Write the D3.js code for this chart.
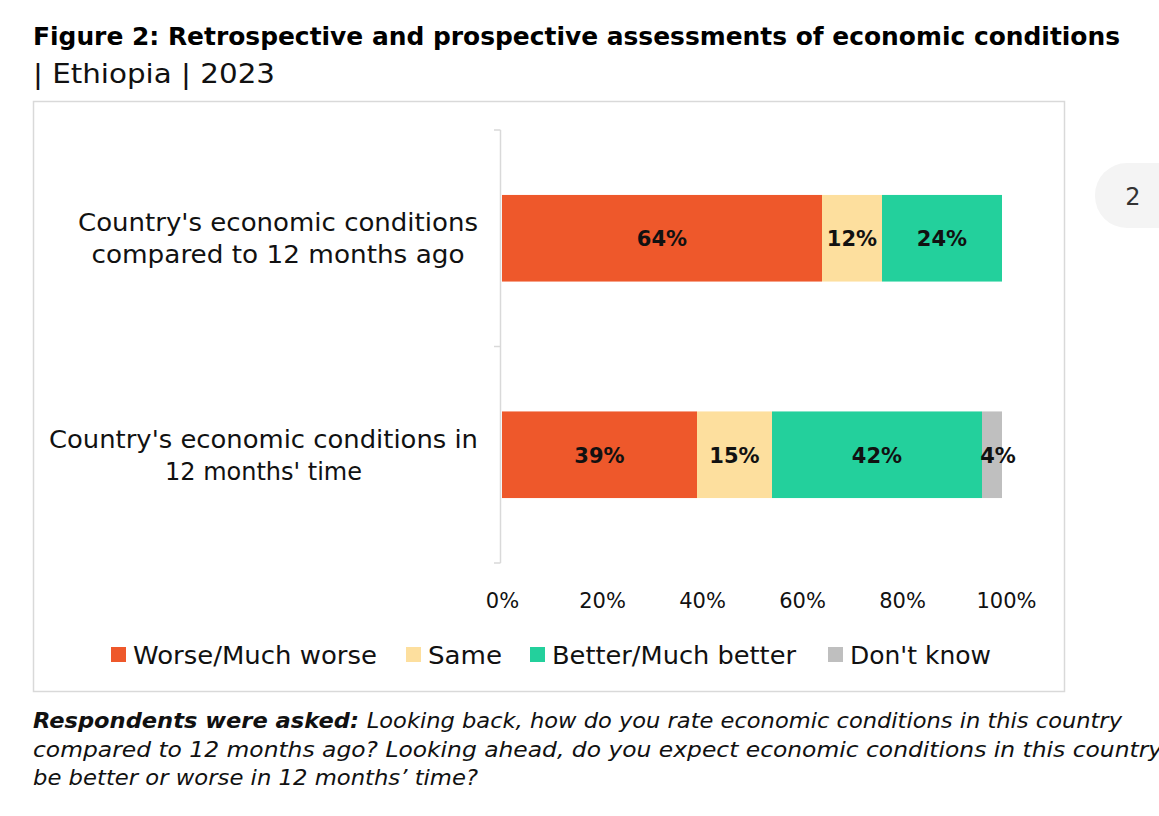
<!DOCTYPE html>
<html>
<head>
<meta charset="utf-8">
<script src="https://cdn.jsdelivr.net/npm/d3@7"></script>
<style>
  body { margin: 0; background: #fff; }
  svg { display: block; font-family: "DejaVu Sans", sans-serif; }
</style>
</head>
<body>
<svg id="chart" width="1159" height="816"></svg>
<script>
// data
const categories = [
  ["Country's economic conditions", "compared to 12 months ago"],
  ["Country's economic conditions in", "12 months' time"]
];
const seriesNames = ["Worse/Much worse", "Same", "Better/Much better", "Don't know"];
const seriesColors = ["#ee582b", "#fddf9e", "#23d09c", "#bfbfbf"];
const worse = [64, 39];
const same = [12, 15];
const better = [24, 42];
const dontKnow = [0, 4];
const xTicks = [0, 20, 40, 60, 80, 100];

const svg = d3.select('#chart');

function fit(sel, w) {
  sel.attr('textLength', w).attr('lengthAdjust', 'spacingAndGlyphs');
  return sel;
}

// title
fit(svg.append('text').attr('x', 33).attr('y', 45)
  .attr('font-size', 24.5).attr('font-weight', 'bold').attr('fill', '#000')
  .text('Figure 2: Retrospective and prospective assessments of economic conditions'), 1087);
fit(svg.append('text').attr('x', 33).attr('y', 83)
  .attr('font-size', 27).attr('fill', '#111')
  .text('| Ethiopia  | 2023'), 242);

// page badge
svg.append('rect').attr('x', 1095).attr('y', 163).attr('width', 100).attr('height', 65)
  .attr('rx', 32).attr('fill', '#f4f4f4');
svg.append('text').attr('x', 1133).attr('y', 205).attr('text-anchor', 'middle')
  .attr('font-size', 24).attr('fill', '#333').text('2');

// frame
svg.append('rect').attr('x', 33.5).attr('y', 101.5).attr('width', 1031).attr('height', 590)
  .attr('fill', 'none').attr('stroke', '#d9d9d9').attr('stroke-width', 1.5);

const x = d3.scaleLinear().domain([0, 100]).range([502, 1002]);
const y = d3.scaleBand().domain(d3.range(categories.length)).range([130, 563]).paddingInner(0.6).paddingOuter(0.3);

const rows = categories.map((c, i) => ({
  i, worse: worse[i], same: same[i], better: better[i], dk: dontKnow[i]
}));
const keys = ['worse', 'same', 'better', 'dk'];
const stacked = d3.stack().keys(keys)(rows);

const g = svg.append('g');
stacked.forEach((layer, k) => {
  g.selectAll(null).data(layer).join('rect')
    .attr('x', d => x(d[0]))
    .attr('y', d => y(d.data.i))
    .attr('width', d => x(d[1]) - x(d[0]))
    .attr('height', y.bandwidth())
    .attr('fill', seriesColors[k]);
  g.selectAll(null).data(layer.filter(d => d[1] - d[0] > 0)).join('text')
    .attr('x', d => (x(d[0]) + x(d[1])) / 2 + (k === 3 ? 6 : 0))
    .attr('y', d => y(d.data.i) + y.bandwidth() / 2 + 8)
    .attr('text-anchor', 'middle')
    .attr('font-size', 21).attr('font-weight', 'bold').attr('fill', '#111')
    .text(d => (d[1] - d[0]) + '%');
});

// y axis line with ticks at the band boundaries
const axisColor = '#d9d9d9';
svg.append('line').attr('x1', 500.5).attr('x2', 500.5).attr('y1', 130).attr('y2', 563)
  .attr('stroke', axisColor).attr('stroke-width', 1.5);
[130, (130 + 563) / 2, 563].forEach(v => {
  svg.append('line').attr('x1', 494).attr('x2', 500.5).attr('y1', v).attr('y2', v)
    .attr('stroke', axisColor).attr('stroke-width', 1.5);
});

// category labels: lines centred on the longest line, which ends near the axis
const catWidths = [[400, 373], [429, 197]];
categories.forEach((lines, i) => {
  const cy = y(i) + y.bandwidth() / 2;
  const cx = 478 - d3.max(catWidths[i]) / 2;
  lines.forEach((l, j) => {
    fit(svg.append('text').attr('x', cx - catWidths[i][j] / 2).attr('y', cy - 7 + j * 32)
      .attr('font-size', 24).attr('fill', '#111').text(l), catWidths[i][j]);
  });
});

// x axis labels
const xAxis = d3.axisBottom(x).tickValues(xTicks).tickFormat(d => d + '%').tickSize(0).tickPadding(0);
const xg = svg.append('g').attr('transform', 'translate(0,592)').call(xAxis);
xg.select('.domain').remove();
xg.selectAll('text').attr('font-size', 21).attr('fill', '#111').attr('dy', 16)
  .attr('font-family', '"DejaVu Sans", sans-serif');
xg.selectAll('text').filter(d => d === 100).attr('dx', 4);

// legend
const legendX = [111, 406, 530, 828];
const legendW = [244, 74, 244, 141];
seriesNames.forEach((n, k) => {
  svg.append('rect').attr('x', legendX[k]).attr('y', 647).attr('width', 15).attr('height', 15)
    .attr('fill', seriesColors[k]);
  fit(svg.append('text').attr('x', legendX[k] + 22).attr('y', 664).attr('font-size', 24).attr('fill', '#111')
    .text(n), legendW[k]);
});

// footnote
const foot = svg.append('g').attr('font-size', 21).attr('font-style', 'italic').attr('fill', '#111');
const l1 = fit(foot.append('text').attr('x', 33).attr('y', 728), 1089);
l1.append('tspan').attr('font-weight', 'bold').text('Respondents were asked: ');
l1.append('tspan').text('Looking back, how do you rate economic conditions in this country');
fit(foot.append('text').attr('x', 33).attr('y', 757)
  .text('compared to 12 months ago? Looking ahead, do you expect economic conditions in this country to'), 1160);
fit(foot.append('text').attr('x', 33).attr('y', 785)
  .text('be better or worse in 12 months\u2019 time?'), 445);
</script>
</body>
</html>
